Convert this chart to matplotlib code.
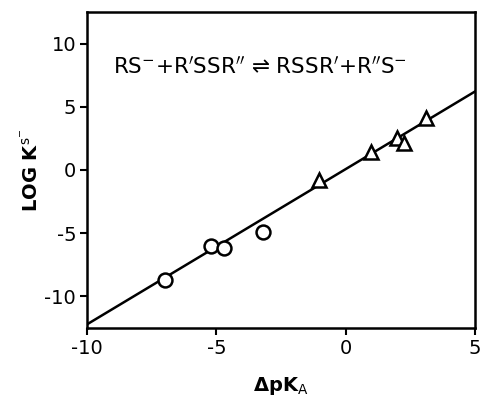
import numpy as np
import matplotlib
matplotlib.use('Agg')
from matplotlib import pyplot as plt

# values
circle_x = [-7.0, -5.2, -4.7, -3.2]
circle_y = [-8.7, -6.05, -6.15, -4.9]
tri_x = [-1.05, 1.0, 2.0, 2.25, 3.1]
tri_y = [-0.8, 1.45, 2.5, 2.15, 4.15]
fit_x = [-10, 5]
fit_y = [-12.2, 6.2]

plt.rcParams['font.family'] = 'DejaVu Sans'
plt.rcParams['mathtext.fontset'] = 'dejavusans'
plt.rcParams['axes.unicode_minus'] = False

fig = plt.figure(figsize=(4.85, 3.99), dpi=100)
ax = fig.add_axes([0.18, 0.178, 0.799, 0.792])

ax.plot(fit_x, fit_y, 'k-', lw=1.8, zorder=2)
ax.plot(circle_x, circle_y, 'o', ms=10, mfc='white', mec='k', mew=1.8, zorder=3)
ax.plot(tri_x, tri_y, '^', ms=10, mfc='white', mec='k', mew=1.8, zorder=3)

ax.set_xlim(-10, 5)
ax.set_ylim(-12.5, 12.5)
ax.set_xticks([-10, -5, 0, 5])
ax.set_yticks([-10, -5, 0, 5, 10])
ax.tick_params(direction='out', length=5, width=1.5, labelsize=14, pad=3)
ax.tick_params(top=False, right=False)
for s in ax.spines.values():
    s.set_linewidth(1.8)

ax.text(-3.3, 8.1, 'RS$^{-}$+R$^{\\prime}$SSR$^{\\prime\\prime}$ \u21cc RSSR$^{\\prime}$+R$^{\\prime\\prime}$S$^{-}$',
        ha='center', va='center', fontsize=15.5)

ax.set_xlabel('\u0394pK$_{\\mathrm{A}}$', fontsize=14, fontweight='bold', labelpad=12)
ax.set_ylabel('LOG K$^{\\mathrm{s}^{-}}$', fontsize=14, fontweight='bold', labelpad=1)

plt.savefig('out.png', dpi=100)
